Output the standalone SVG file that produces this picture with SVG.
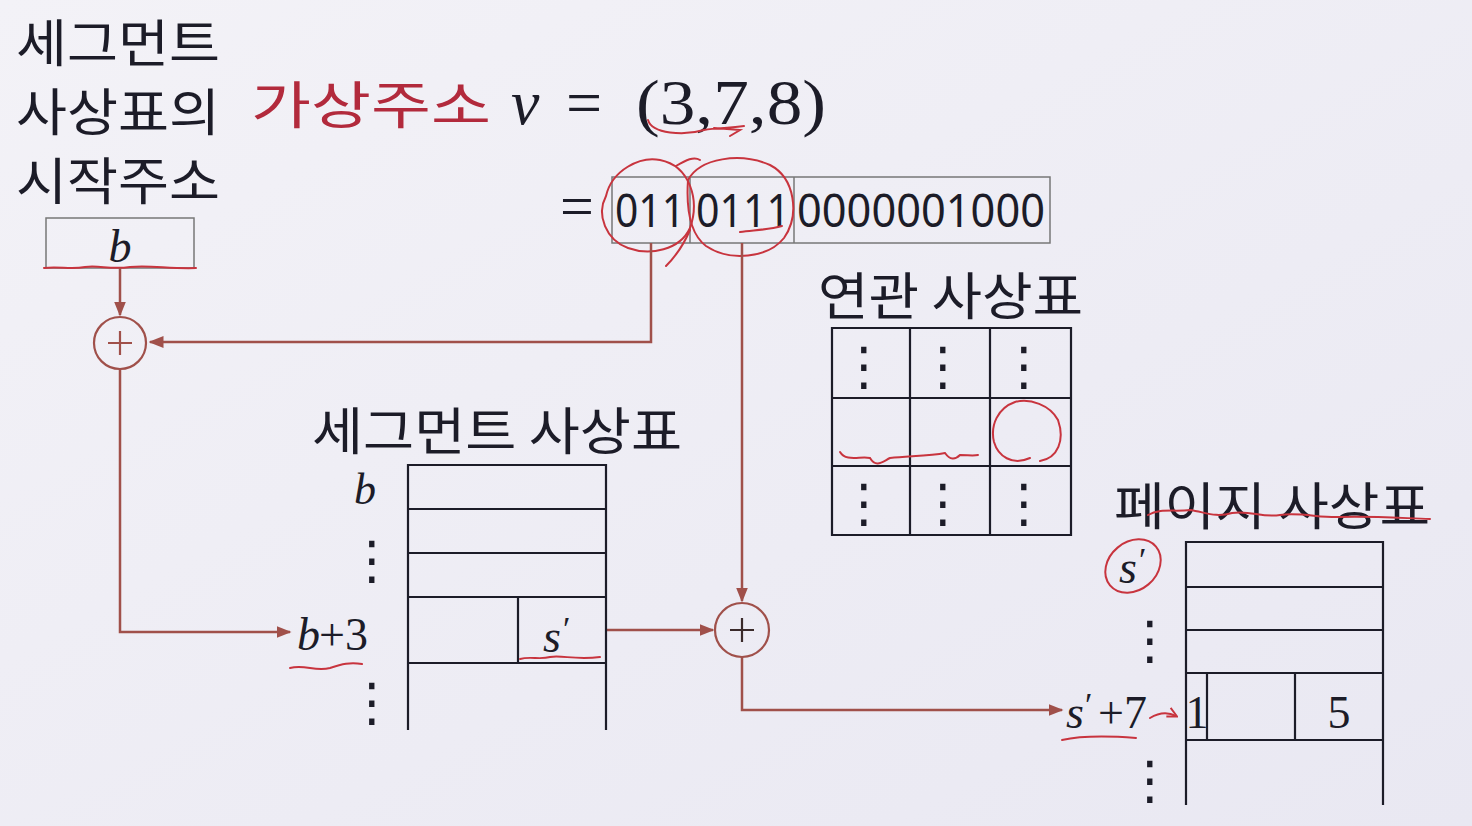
<svg xmlns="http://www.w3.org/2000/svg" width="1472" height="826" viewBox="0 0 1472 826">
<defs>
<linearGradient id="bg" x1="0" y1="0" x2="1" y2="1">
<stop offset="0" stop-color="#f3f2f7"/><stop offset="1" stop-color="#e9e8f2"/>
</linearGradient>
<marker id="ah" viewBox="0 0 10 10" refX="9" refY="5" markerWidth="6" markerHeight="6" orient="auto" markerUnits="strokeWidth">
<path d="M0,1 L10,5 L0,9 z" fill="#a0504a"/>
</marker>
<marker id="rah" viewBox="0 0 10 10" refX="8" refY="5" markerWidth="6" markerHeight="6" orient="auto" markerUnits="strokeWidth">
<path d="M1,1 L9,5 L1,9" fill="none" stroke="#c8343e" stroke-width="1.6"/>
</marker>
<style>
.ko{font-family:"Noto Sans CJK KR","Noto Sans",sans-serif;fill:#1c1c28;font-size:51px}
.red{fill:#b22a3c}
.m{font-family:"Liberation Serif",serif;fill:#1c1c28}
.mi{font-family:"Liberation Serif",serif;font-style:italic;fill:#1c1c28}
.bin{font-family:"Noto Sans","Liberation Sans",sans-serif;fill:#1c1c28;font-size:46px}
.dots{font-family:"DejaVu Sans",sans-serif;fill:#1c1c28;font-size:52px}
.tbl{fill:none;stroke:#1c1c28;stroke-width:2.2}
.box{fill:none;stroke:#777;stroke-width:1.5}
.con{fill:none;stroke:#a0504a;stroke-width:2.5}
.op{fill:none;stroke:#a0504a;stroke-width:2.2}
.ann{fill:none;stroke:#c8343e;stroke-width:2;stroke-linecap:round}
</style>
</defs>
<rect width="1472" height="826" fill="url(#bg)"/>

<g id="start-label">
<text class="ko" x="16" y="62" textLength="204" lengthAdjust="spacingAndGlyphs">세그먼트</text>
<text class="ko" x="16" y="131" textLength="204" lengthAdjust="spacingAndGlyphs">사상표의</text>
<text class="ko" x="16" y="200" textLength="204" lengthAdjust="spacingAndGlyphs">시작주소</text>
</g>

<g id="b-register">
<rect class="box" x="46" y="218" width="148" height="50"/>
<text class="mi" x="120" y="262" font-size="46" text-anchor="middle">b</text>
<path class="ann" d="M44,268 C60,266 70,270 85,267 C100,265 110,270 130,267 C150,265 170,269 196,268"/>
</g>

<g id="title">
<text class="ko red" x="251" y="124" font-size="70" textLength="240" lengthAdjust="spacingAndGlyphs">가상주소</text>
<text class="mi" x="511" y="124" font-size="64">v</text>
<text class="m" x="566" y="124" font-size="64">=</text>
<text class="m" x="636" y="124" font-size="64" textLength="190" lengthAdjust="spacingAndGlyphs">(3,7,8)</text>
<path class="ann" d="M648,120 C652,134 684,136 704,130 C716,128 728,128 744,126 M714,128 L740,130 L730,136"/>
</g>

<g id="binary">
<text class="m" x="560" y="226" font-size="60">=</text>
<rect class="box" x="612" y="177" width="438" height="66"/>
<line class="box" x1="690" y1="177" x2="690" y2="243"/>
<line class="box" x1="794" y1="177" x2="794" y2="243"/>
<text class="bin" x="615" y="227" textLength="70" lengthAdjust="spacingAndGlyphs">011</text>
<text class="bin" x="696" y="227" textLength="94" lengthAdjust="spacingAndGlyphs">0111</text>
<text class="bin" x="797" y="227" textLength="248" lengthAdjust="spacingAndGlyphs">0000001000</text>
<path class="ann" d="M606,196 C612,170 640,156 660,160 C690,166 700,200 690,228 C680,250 650,256 628,248 C606,240 596,215 606,196 Z"/>
<path class="ann" d="M688,180 C700,158 740,152 770,165 C795,178 800,215 784,238 C768,258 730,262 706,246 C690,234 686,210 688,180 M676,166 C686,160 694,156 700,160 M690,230 C684,244 676,256 666,266 M740,232 C755,230 768,230 782,226"/>
</g>

<g id="connectors">
<path class="con" d="M651,243 L651,342 L150,342" marker-end="url(#ah)"/>
<path class="con" d="M120,268 L120,315" marker-end="url(#ah)"/>
<path class="con" d="M120,368 L120,632 L290,632" marker-end="url(#ah)"/>
<path class="con" d="M742,243 L742,601" marker-end="url(#ah)"/>
<path class="con" d="M606,630 L713,630" marker-end="url(#ah)"/>
<path class="con" d="M742,657 L742,710 L1062,710" marker-end="url(#ah)"/>
</g>

<g id="adder1">
<circle class="op" cx="120" cy="343" r="26"/>
<path d="M108,343 L132,343 M120,331 L120,355" stroke="#a0504a" stroke-width="2.2"/>
</g>

<g id="adder2">
<circle class="op" cx="742" cy="630" r="27"/>
<path d="M730,630 L754,630 M742,618 L742,642" stroke="#3a2a2a" stroke-width="2.2"/>
</g>

<g id="segment-table">
<text class="ko" x="312" y="450" textLength="370" lengthAdjust="spacingAndGlyphs">세그먼트 사상표</text>
<path class="tbl" d="M408,730 L408,465 L606,465 L606,730 M408,509 L606,509 M408,553 L606,553 M408,597 L606,597 M408,663 L606,663 M518,597 L518,663"/>
<text class="mi" x="365" y="504" font-size="44" text-anchor="middle">b</text>
<text class="dots" x="372" y="578" text-anchor="middle">⋮</text>
<text class="mi" x="297" y="650" font-size="46">b</text>
<text class="m" x="319" y="650" font-size="46">+3</text>
<text class="dots" x="372" y="720" text-anchor="middle">⋮</text>
<text class="mi" x="543" y="652" font-size="46">s</text>
<text class="m" x="563" y="640" font-size="34">′</text>
<path class="ann" d="M290,668 C305,664 315,672 330,668 C342,664 350,662 362,664"/>
<path class="ann" d="M520,659 C530,656 540,660 550,657 C562,655 575,660 600,657"/>
</g>

<g id="assoc-table">
<text class="ko" x="818" y="315" textLength="265" lengthAdjust="spacingAndGlyphs">연관 사상표</text>
<path class="tbl" d="M832,328 L1071,328 L1071,535 L832,535 Z M910,328 L910,535 M990,328 L990,535 M832,398 L1071,398 M832,466 L1071,466"/>
<text class="dots" x="864" y="384" text-anchor="middle">⋮</text>
<text class="dots" x="943" y="384" text-anchor="middle">⋮</text>
<text class="dots" x="1024" y="384" text-anchor="middle">⋮</text>
<text class="dots" x="864" y="521" text-anchor="middle">⋮</text>
<text class="dots" x="943" y="521" text-anchor="middle">⋮</text>
<text class="dots" x="1024" y="521" text-anchor="middle">⋮</text>
<path class="ann" d="M840,452 C846,462 860,456 870,458 C876,468 882,462 890,458 C910,456 930,456 945,453 C950,460 955,460 960,455 C968,455 973,456 978,455"/>
<path class="ann" d="M1040,461 C1058,458 1065,440 1058,420 C1050,405 1030,398 1015,402 C998,408 990,425 994,442 C998,456 1012,466 1030,458"/>
</g>

<g id="page-table">
<text class="ko" x="1114" y="525" textLength="316" lengthAdjust="spacingAndGlyphs">페이지 사상표</text>
<path class="ann" d="M1148,515 C1160,508 1175,512 1190,510 C1205,512 1215,518 1232,513 C1250,510 1262,518 1280,515 C1300,512 1320,518 1340,517 C1370,516 1400,518 1430,519"/>
<path class="tbl" d="M1186,805 L1186,542 L1383,542 L1383,805 M1186,587 L1383,587 M1186,630 L1383,630 M1186,673 L1383,673 M1186,740 L1383,740 M1207,673 L1207,740 M1295,673 L1295,740"/>
<text class="m" x="1197" y="728" font-size="46" text-anchor="middle">1</text>
<text class="m" x="1339" y="728" font-size="46" text-anchor="middle">5</text>
<text class="mi" x="1119" y="583" font-size="46">s</text>
<text class="m" x="1139" y="571" font-size="34">′</text>
<ellipse class="ann" cx="1133" cy="566" rx="30" ry="24" transform="rotate(-40 1133 566)"/>
<text class="dots" x="1150" y="658" text-anchor="middle">⋮</text>
<text class="mi" x="1066" y="728" font-size="46">s</text>
<text class="m" x="1085" y="716" font-size="34">′</text>
<text class="m" x="1098" y="728" font-size="46">+7</text>
<path class="ann" d="M1150,718 C1160,712 1168,712 1176,716" marker-end="url(#rah)"/>
<path class="ann" d="M1062,740 C1080,736 1110,736 1136,738"/>
<text class="dots" x="1150" y="798" text-anchor="middle">⋮</text>
</g>
</svg>
